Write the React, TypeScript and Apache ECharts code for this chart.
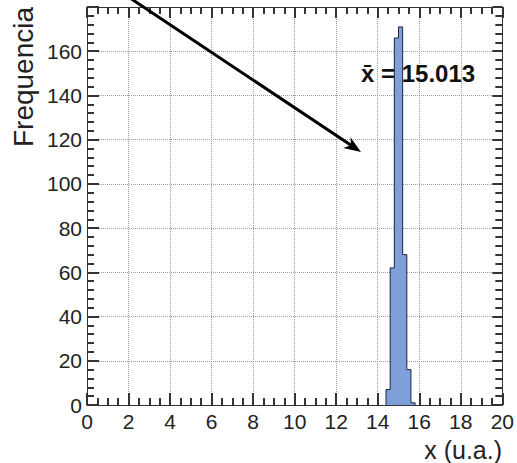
import React, { useEffect, useRef } from "react";
import * as echarts from "echarts";

const binEdges = [14.4, 14.6, 14.8, 15.0, 15.2, 15.4, 15.6, 15.8];
const binCounts = [7, 62, 166, 171, 68, 16, 1];
const meanText = "x\u0304 = 15.013";
const xTitle = "x (u.a.)";
const yTitle = "Frequencia";

const FONT = "Liberation Sans";
const AXIS_COLOR = "#333";
const LABEL_COLOR = "#222";

export default function App() {
  const ref = useRef<HTMLDivElement>(null);
  useEffect(() => {
    if (!ref.current) return;
    const chart = echarts.init(ref.current, undefined, { renderer: "svg" });

    const stepData: number[][] = [[binEdges[0], 0]];
    binCounts.forEach((c, i) => stepData.push([binEdges[i], c]));
    stepData.push([binEdges[binEdges.length - 1], 0]);

    const tick = (len: number) => ({
      show: true,
      inside: true,
      length: len,
      lineStyle: { color: AXIS_COLOR, width: 2 },
    });
    const minor = (n: number) => ({
      show: true,
      splitNumber: n,
      length: 7,
      lineStyle: { color: AXIS_COLOR, width: 2 },
    });

    const xMain: any = {
      type: "value", min: 0, max: 20, interval: 2, position: "bottom",
      axisLine: { show: true, onZero: false, lineStyle: { color: AXIS_COLOR, width: 1 } },
      axisTick: tick(12),
      minorTick: minor(4),
      axisLabel: { fontSize: 21, color: LABEL_COLOR, fontFamily: FONT, margin: 6 },
      splitLine: { show: true, lineStyle: { type: "dotted", color: "#999" } },
    };
    const xTop: any = {
      type: "value", min: 0, max: 20, interval: 2, position: "top",
      axisLine: { show: true, onZero: false, lineStyle: { color: AXIS_COLOR, width: 1 } },
      axisTick: tick(11),
      minorTick: minor(4),
      axisLabel: { show: false },
      splitLine: { show: false },
    };
    const yMain: any = {
      type: "value", min: 0, max: 180, interval: 20, position: "left",
      axisLine: { show: true, onZero: false, lineStyle: { color: AXIS_COLOR, width: 1 } },
      axisTick: tick(12),
      minorTick: minor(5),
      axisLabel: { fontSize: 21, color: LABEL_COLOR, fontFamily: FONT, margin: 5, showMaxLabel: false },
      splitLine: { show: true, lineStyle: { type: "dotted", color: "#999" } },
    };
    const yRight: any = {
      type: "value", min: 0, max: 180, interval: 20, position: "right",
      axisLine: { show: true, onZero: false, lineStyle: { color: AXIS_COLOR, width: 1 } },
      axisTick: tick(10),
      minorTick: minor(5),
      axisLabel: { show: false },
      splitLine: { show: false },
    };

    // arrow geometry (annotation in pixels)
    const tip = [361, 152];
    const start = [112, -14];
    const dx = tip[0] - start[0];
    const dy = tip[1] - start[1];
    const L = Math.hypot(dx, dy);
    const ux = dx / L, uy = dy / L;
    const px = -uy, py = ux;
    const headLen = 17, headHalf = 6.5, notch = 12;
    const base = [tip[0] - headLen * ux, tip[1] - headLen * uy];
    const notchPt = [tip[0] - notch * ux, tip[1] - notch * uy];

    chart.setOption({
      animation: false,
      backgroundColor: "#fff",
      grid: { left: 87, right: 14, top: 7, bottom: 58 },
      xAxis: [xMain, xTop],
      yAxis: [yMain, yRight],
      series: [
        {
          type: "line",
          xAxisIndex: 0,
          yAxisIndex: 0,
          step: "end",
          data: stepData,
          symbol: "none",
          lineStyle: { color: "#1c2340", width: 1 },
          areaStyle: { color: "#7e9fd8", opacity: 1 },
        },
      ],
      graphic: [
        {
          type: "line",
          z: 100,
          shape: { x1: start[0], y1: start[1], x2: notchPt[0], y2: notchPt[1] },
          style: { stroke: "#000", lineWidth: 3 },
        },
        {
          type: "polygon",
          z: 100,
          shape: {
            points: [
              tip,
              [base[0] + px * headHalf, base[1] + py * headHalf],
              notchPt,
              [base[0] - px * headHalf, base[1] - py * headHalf],
            ],
          },
          style: { fill: "#000" },
        },
        {
          type: "text",
          z: 100,
          x: 361,
          y: 73.5,
          style: {
            text: meanText,
            font: `bold 24px ${FONT}`,
            fill: "#111",
            textAlign: "left",
            textVerticalAlign: "middle",
          },
        },
        {
          type: "text",
          z: 100,
          x: 502,
          y: 449.5,
          style: {
            text: xTitle,
            font: `25px ${FONT}`,
            fill: LABEL_COLOR,
            textAlign: "right",
            textVerticalAlign: "middle",
          },
        },
        {
          type: "text",
          z: 100,
          x: 23,
          y: 77,
          rotation: Math.PI / 2,
          style: {
            text: yTitle,
            font: `28px ${FONT}`,
            fill: LABEL_COLOR,
            textAlign: "center",
            textVerticalAlign: "middle",
          },
        },
      ],
    });
    return () => chart.dispose();
  }, []);

  return (
    <div
      ref={ref}
      style={{ position: "fixed", left: 0, top: 0, width: 517, height: 463, background: "#fff" }}
    />
  );
}
